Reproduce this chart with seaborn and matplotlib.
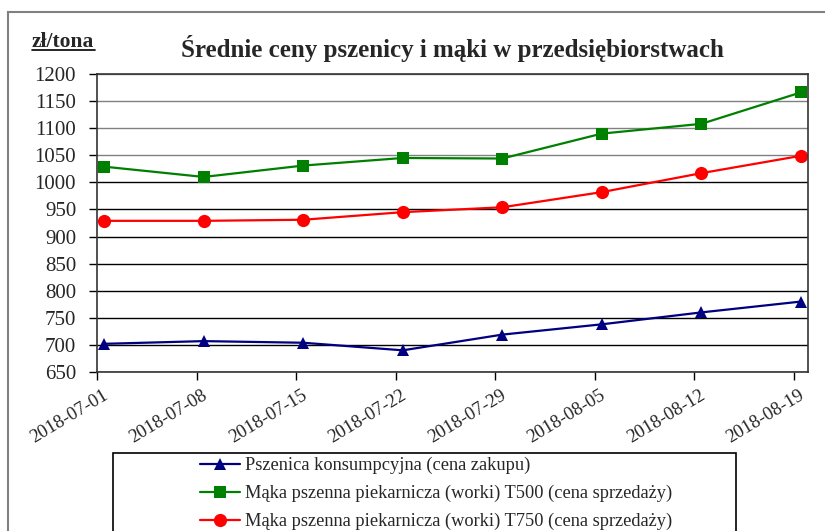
import pandas as pd
import matplotlib
matplotlib.use("Agg")
import matplotlib.pyplot as plt
import matplotlib.dates as mdates
import matplotlib.transforms as mtransforms
from matplotlib.patches import Rectangle
import seaborn as sns

# data (zł/tona)
dates = ["2018-07-01", "2018-07-08", "2018-07-15", "2018-07-22",
         "2018-07-29", "2018-08-05", "2018-08-12", "2018-08-19"]
pszenica = [702, 707, 704, 690, 719, 738, 760, 780]
maka_t500 = [1029, 1010, 1031, 1045, 1044, 1090, 1108, 1166]
maka_t750 = [929, 929, 931, 945, 954, 982, 1017, 1049]

labels = ["Pszenica konsumpcyjna (cena zakupu)",
          "Mąka pszenna piekarnicza (worki) T500 (cena sprzedaży)",
          "Mąka pszenna piekarnicza (worki) T750 (cena sprzedaży)"]
colors = ["#000080", "#008000", "#FF0000"]
markers = ["^", "s", "o"]
msizes = [9, 9, 9.5]

sns.set_theme(style="white")
plt.rcParams["font.family"] = ["Liberation Serif", "DejaVu Serif"]

fig = plt.figure(figsize=(8.25, 5.31), dpi=100)
ax = fig.add_axes([97 / 825, 1 - 372 / 531, 711 / 825, 298 / 531])

# Excel date axis puts each point in the middle of its day
x = pd.to_datetime(dates) + pd.Timedelta(hours=12)
for vals, lab, col, mk, ms in zip([pszenica, maka_t500, maka_t750], labels, colors, markers, msizes):
    df = pd.DataFrame({"data": x, "cena": vals})
    sns.lineplot(data=df, x="data", y="cena", ax=ax, color=col, marker=mk,
                 markersize=ms, markeredgewidth=0, linewidth=1.6, label=lab)

ax.set_xlim(pd.Timestamp("2018-07-01"), pd.Timestamp("2018-08-20"))
ax.set_ylim(650, 1200)
ax.set_yticks(range(650, 1201, 50))
ax.set_xticks(pd.to_datetime(dates))
ax.xaxis.set_major_formatter(mdates.DateFormatter("%Y-%m-%d"))
ax.set_xlabel("")
ax.set_ylabel("")

ax.yaxis.grid(True, linewidth=1.0)
for val, gl in zip(ax.get_yticks(), ax.get_ygridlines()):
    gl.set_color("#808080" if val >= 1050 else "black")
ax.xaxis.grid(False)
ax.set_axisbelow(True)

for sp in ax.spines.values():
    sp.set_color("#333333")
    sp.set_linewidth(1.2)

ax.tick_params(axis="both", which="major", direction="out", length=6, width=1,
               color="black", labelsize=15, pad=9, bottom=True, left=True)
ax.tick_params(axis="x", labelsize=13.5, pad=4)
shift = mtransforms.ScaledTranslation(5 / 100, -1 / 100, fig.dpi_scale_trans)
for t in ax.get_xticklabels():
    t.set_rotation(31)
    t.set_ha("right")
    t.set_rotation_mode("anchor")
    t.set_transform(t.get_transform() + shift)

ax.get_legend().remove()
handles, labs = ax.get_legend_handles_labels()
fig.legend(handles, labs, loc="upper left", bbox_to_anchor=(200 / 825, 1 - 457 / 531),
           frameon=False, fontsize=13.2, handlelength=2.2, handletextpad=0.25,
           labelspacing=0.58, borderaxespad=0, borderpad=0)

# legend box and outer chart frame, both cut off by the picture edge
fig.patches.append(Rectangle((113 / 825, -0.2), 623 / 825, 0.2 + 78 / 531,
                             transform=fig.transFigure, fill=False,
                             edgecolor="black", linewidth=1.2))
fig.patches.append(Rectangle((8 / 825, -0.2), 1.2, 1.2 - 12 / 531,
                             transform=fig.transFigure, fill=False,
                             edgecolor="#808080", linewidth=1.5))

fig.text(452 / 825, 1 - 48 / 531, "Średnie ceny pszenicy i mąki w przedsiębiorstwach",
         ha="center", va="center", fontsize=18, fontweight="bold")
fig.text(32 / 825, 1 - 42 / 531, "zł/tona", ha="left", va="center",
         fontsize=15.5, fontweight="bold")
fig.add_artist(plt.Line2D([32 / 825, 95 / 825], [1 - 50 / 531, 1 - 50 / 531],
                          color="black", linewidth=1.2))

fig.savefig("out.png", dpi=100)
